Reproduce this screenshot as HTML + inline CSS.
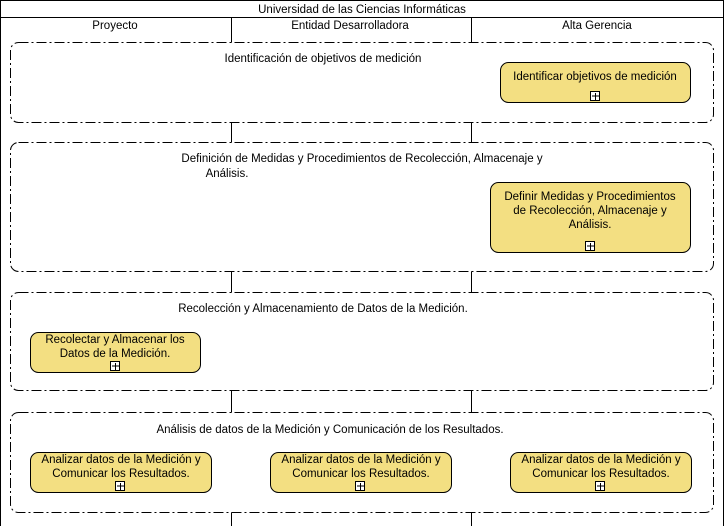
<!DOCTYPE html>
<html><head><style>
body{margin:0;background:#fff;}
svg{display:block;font-family:"Liberation Sans",sans-serif;font-size:11.5px;}
</style></head><body>
<svg width="727" height="526" viewBox="0 0 727 526">
<rect x="0.5" y="0.5" width="723" height="530" fill="#fff" stroke="#000"/>
<line x1="0" y1="17.5" x2="724" y2="17.5" stroke="#000"/>
<line x1="231.5" y1="17" x2="231.5" y2="526" stroke="#000"/>
<line x1="471.5" y1="17" x2="471.5" y2="526" stroke="#000"/>
<text x="362" y="13" text-anchor="middle">Universidad de las Ciencias Informáticas</text>
<text x="115" y="29" text-anchor="middle">Proyecto</text>
<text x="350" y="29" text-anchor="middle">Entidad Desarrolladora</text>
<text x="597" y="29" text-anchor="middle">Alta Gerencia</text>
<g fill="#fff" stroke="#000" stroke-dasharray="10,3,2,3">
<rect x="10.5" y="42.5" width="703" height="80" rx="8"/>
<rect x="10.5" y="142.5" width="703" height="129" rx="8"/>
<rect x="10.5" y="292.5" width="703" height="98" rx="8"/>
<rect x="10.5" y="412.5" width="703" height="100" rx="8"/>
</g>
<g text-anchor="middle">
<text x="323" y="62">Identificación de objetivos de medición</text>
<text x="362" y="162">Definición de Medidas y Procedimientos de Recolección, Almacenaje y</text>
<text x="227" y="177">Análisis.</text>
<text x="323" y="312">Recolección y Almacenamiento de Datos de la Medición.</text>
<text x="330" y="433">Análisis de datos de la Medición y Comunicación de los Resultados.</text>
</g>
<g fill="#f3df82" stroke="#000">
<rect x="500.5" y="62.5" width="190" height="40" rx="8"/>
<rect x="490.5" y="182.5" width="200" height="70" rx="8"/>
<rect x="30.5" y="332.5" width="170" height="40" rx="8"/>
<rect x="30.5" y="452.5" width="181" height="40" rx="8"/>
<rect x="270.5" y="452.5" width="181" height="40" rx="8"/>
<rect x="510.5" y="452.5" width="181" height="40" rx="8"/>
</g>
<g fill="#fff" stroke="#000">
<rect x="590.5" y="91.5" width="9" height="9"/>
<rect x="585.5" y="241.5" width="9" height="9"/>
<rect x="110.5" y="361.5" width="9" height="9"/>
<rect x="115.5" y="481.5" width="9" height="9"/>
<rect x="355.5" y="481.5" width="9" height="9"/>
<rect x="595.5" y="481.5" width="9" height="9"/>
</g>
<g stroke="#000">
<path d="M592 96h7M595.5 93v7"/>
<path d="M587 246h7M590.5 243v7"/>
<path d="M112 366h7M115.5 363v7"/>
<path d="M117 486h7M120.5 483v7"/>
<path d="M357 486h7M360.5 483v7"/>
<path d="M597 486h7M600.5 483v7"/>
</g>
<g text-anchor="middle">
<text x="595" y="80">Identificar objetivos de medición</text>
<text x="590" y="200">Definir Medidas y Procedimientos</text>
<text x="590" y="214">de Recolección, Almacenaje y</text>
<text x="590" y="228">Análisis.</text>
<text x="115" y="343">Recolectar y Almacenar los</text>
<text x="115" y="357">Datos de la Medición.</text>
<text x="121" y="463">Analizar datos de la Medición y</text>
<text x="121" y="477">Comunicar los Resultados.</text>
<text x="361" y="463">Analizar datos de la Medición y</text>
<text x="361" y="477">Comunicar los Resultados.</text>
<text x="601" y="463">Analizar datos de la Medición y</text>
<text x="601" y="477">Comunicar los Resultados.</text>
</g>
</svg>
</body></html>
